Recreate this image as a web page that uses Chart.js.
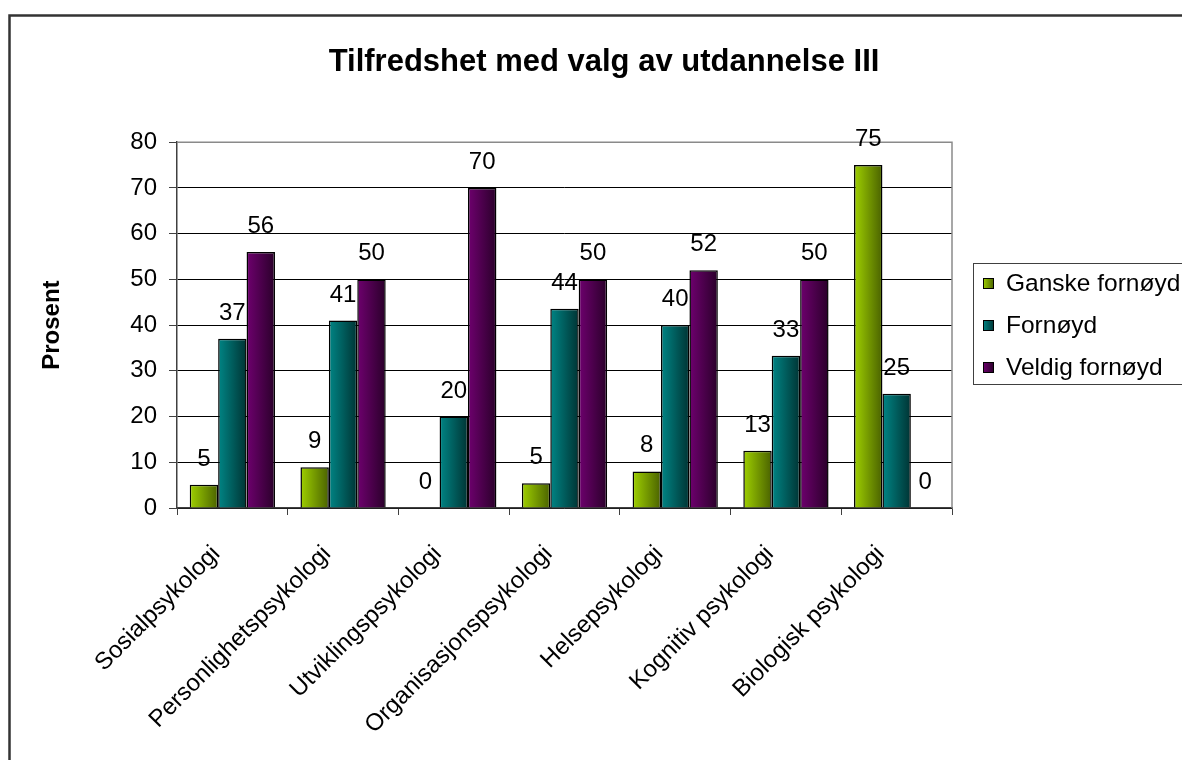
<!DOCTYPE html>
<html>
<head>
<meta charset="utf-8">
<script src="https://cdn.jsdelivr.net/npm/chart.js@4.4.1/dist/chart.umd.min.js"></script>
<style>
  html, body { margin: 0; padding: 0; background: #fff; overflow: hidden; }
  #wrap { position: absolute; left: 0; top: 0; width: 1182px; height: 760px; }
</style>
</head>
<body>
<div id="wrap"><canvas id="chart" width="1182" height="760"></canvas></div>
<script>
// data
const categories = ['Sosialpsykologi', 'Personlighetspsykologi', 'Utviklingspsykologi',
  'Organisasjonspsykologi', 'Helsepsykologi', 'Kognitiv psykologi', 'Biologisk psykologi'];
const ganskeFornoyd = [5.1, 8.9, 0, 5.4, 8, 12.5, 75];
const fornoyd = [37, 41, 20, 43.6, 40, 33.3, 25];
const veldigFornoyd = [56, 50, 70, 50, 52, 50, 0];
const seriesNames = ['Ganske fornøyd', 'Fornøyd', 'Veldig fornøyd'];
const yTicks = [0, 10, 20, 30, 40, 50, 60, 70, 80];

// light / dark end of each bar's shading
const shades = [
  ['#9fd000', '#4a6200'],
  ['#008585', '#003434'],
  ['#6e006e', '#2a002a']
];

Chart.defaults.font.family = "'Liberation Sans', Arial, sans-serif";
Chart.defaults.color = '#000';

// horizontal gradient in every bar
const barShading = {
  id: 'barShading',
  beforeDatasetsDraw(chart) {
    const ctx = chart.ctx;
    chart.data.datasets.forEach((ds, i) => {
      chart.getDatasetMeta(i).data.forEach(bar => {
        const left = bar.x - bar.width / 2;
        const g = ctx.createLinearGradient(left, 0, left + bar.width, 0);
        g.addColorStop(0, shades[i][0]);
        g.addColorStop(1, shades[i][1]);
        bar.options.backgroundColor = g;
      });
    });
    // grey plot frame on top and right
    const a = chart.chartArea;
    ctx.save();
    ctx.strokeStyle = '#8a8a8a';
    ctx.lineWidth = 1.5;
    ctx.beginPath();
    ctx.moveTo(a.left, a.top);
    ctx.lineTo(a.right, a.top);
    ctx.lineTo(a.right, a.bottom);
    ctx.stroke();
    ctx.restore();
  }
};

// numbers above the bars
const valueLabels = {
  id: 'valueLabels',
  afterDatasetsDraw(chart) {
    const ctx = chart.ctx;
    ctx.save();
    ctx.font = "24px 'Liberation Sans', Arial, sans-serif";
    ctx.fillStyle = '#000';
    ctx.textAlign = 'center';
    ctx.textBaseline = 'alphabetic';
    chart.data.datasets.forEach((ds, i) => {
      chart.getDatasetMeta(i).data.forEach((bar, j) => {
        ctx.fillText(String(Math.round(ds.data[j])), bar.x, bar.y - 19);
      });
    });
    ctx.restore();
  }
};

// legend box and outer frame
const legendBox = {
  id: 'legendBox',
  afterDraw(chart) {
    const ctx = chart.ctx;
    ctx.save();
    ctx.strokeStyle = '#404040';
    ctx.lineWidth = 1;
    ctx.strokeRect(973.5, 263.5, 230, 121);
    ctx.font = "24.5px 'Liberation Sans', Arial, sans-serif";
    ctx.textAlign = 'left';
    ctx.textBaseline = 'middle';
    chart.data.datasets.forEach((ds, i) => {
      const y = 283 + i * 42;
      const g = ctx.createLinearGradient(983, 0, 994, 0);
      g.addColorStop(0, shades[i][0]);
      g.addColorStop(1, shades[i][1]);
      ctx.fillStyle = g;
      ctx.fillRect(983, y - 5, 11, 11);
      ctx.strokeStyle = '#000';
      ctx.strokeRect(983.5, y - 4.5, 10, 10);
      ctx.fillStyle = '#000';
      ctx.fillText(ds.label, 1006, y + 1);
    });
    ctx.strokeStyle = '#333';
    ctx.lineWidth = 2.5;
    ctx.beginPath();
    ctx.moveTo(9.5, 760);
    ctx.lineTo(9.5, 15.5);
    ctx.lineTo(1182, 15.5);
    ctx.stroke();
    ctx.restore();
  }
};

const chart = new Chart(document.getElementById('chart'), {
  type: 'bar',
  data: {
    labels: categories,
    datasets: [
      { label: seriesNames[0], data: ganskeFornoyd, yAxisID: 'y', backgroundColor: () => shades[0][0] },
      { label: seriesNames[1], data: fornoyd, yAxisID: 'y', backgroundColor: () => shades[1][0] },
      { label: seriesNames[2], data: veldigFornoyd, yAxisID: 'y', backgroundColor: () => shades[2][0] }
    ]
  },
  options: {
    responsive: false,
    animation: false,
    layout: { padding: { left: 26, right: 0, top: 0, bottom: 0 } },
    datasets: {
      bar: {
        categoryPercentage: 0.77,
        barPercentage: 1,
        borderColor: '#000',
        borderWidth: 1.5
      }
    },
    plugins: {
      legend: { display: false },
      tooltip: { enabled: false },
      title: {
        display: true,
        text: 'Tilfredshet med valg av utdannelse III',
        font: { size: 31, weight: 'bold', lineHeight: 1.2 },
        color: '#000',
        padding: { top: 44, bottom: 61 }
      }
    },
    scales: {
      x: {
        afterFit: s => { s.height = 252; },
        grid: { display: true, drawOnChartArea: false, offset: true, tickLength: 7, color: '#404040' },
        border: { color: '#404040', width: 1.5 },
        ticks: {
          autoSkip: false, minRotation: 45, maxRotation: 45,
          font: { size: 24 }, color: '#000', padding: 25, labelOffset: -16
        }
      },
      y: {
        min: 0,
        max: 80,
        afterFit: s => { s.width = 151; },
        afterBuildTicks: s => { s.ticks = yTicks.map(v => ({ value: v })); },
        grid: { color: '#000', lineWidth: 1, tickLength: 8, tickColor: '#404040' },
        border: { color: '#404040', width: 1.5 },
        ticks: { font: { size: 24 }, color: '#000', padding: 12 },
        title: {
          display: true,
          text: 'Prosent',
          font: { size: 24, weight: 'bold', lineHeight: 1 },
          color: '#000',
          padding: { top: 14, bottom: 0 }
        }
      },
      // empty room on the right where the legend sits
      legendRoom: {
        type: 'linear',
        axis: 'y',
        position: 'right',
        afterFit: s => { s.width = 230; },
        ticks: { display: false },
        grid: { display: false },
        border: { display: false }
      }
    }
  },
  plugins: [barShading, valueLabels, legendBox]
});
</script>
</body>
</html>
